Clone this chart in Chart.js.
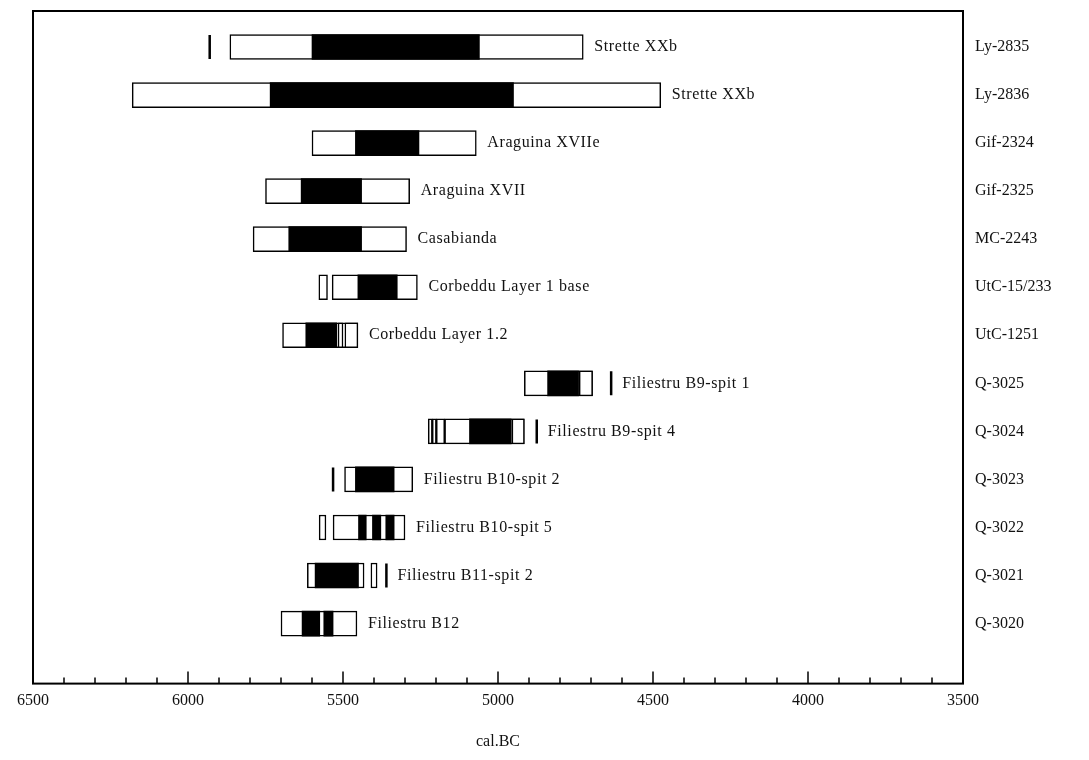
<!DOCTYPE html>
<html lang="en">
<head>
<meta charset="UTF-8">
<title>Radiocarbon dates (cal BC)</title>
<script src="https://cdn.jsdelivr.net/npm/chart.js"></script>
<style>
  body { margin: 0; background: #fff; }
</style>
</head>
<body>
<canvas id="datesChart" width="1089" height="760"></canvas>
<script>
const sites = ['Strette XXb', 'Strette XXb', 'Araguina XVIIe', 'Araguina XVII', 'Casabianda',
  'Corbeddu Layer 1 base', 'Corbeddu Layer 1.2', 'Filiestru B9-spit 1', 'Filiestru B9-spit 4',
  'Filiestru B10-spit 2', 'Filiestru B10-spit 5', 'Filiestru B11-spit 2', 'Filiestru B12'];
const labIds = ['Ly-2835', 'Ly-2836', 'Gif-2324', 'Gif-2325', 'MC-2243', 'UtC-15/233', 'UtC-1251',
  'Q-3025', 'Q-3024', 'Q-3023', 'Q-3022', 'Q-3021', 'Q-3020'];

// 2 sigma ranges (white boxes), years cal BC
const sigma2 = [
  [[5865, 4725]],
  [[6180, 4475]],
  [[5600, 5070]],
  [[5750, 5285]],
  [[5790, 5295]],
  [[5578, 5550], [5535, 5260]],
  [[5695, 5452], [5516, 5500], [5494, 5452]],
  [[4915, 4695], [4738, 4695]],
  [[5225, 5212], [5212, 5199], [5199, 5172], [5172, 4915], [4955, 4915]],
  [[5495, 5275]],
  [[5577, 5555], [5532, 5300]],
  [[5615, 5432], [5410, 5390]],
  [[5700, 5455]]
];
// 1 sigma ranges (black)
const sigma1 = [
  [[5600, 5060]],
  [[5735, 4950]],
  [[5460, 5255]],
  [[5635, 5440]],
  [[5675, 5440]],
  [[5452, 5325]],
  [[5620, 5520]],
  [[4840, 4740]],
  [[5092, 4957]],
  [[5460, 5335]],
  [[5450, 5425], [5405, 5378], [5362, 5335]],
  [[5590, 5450]],
  [[5632, 5575], [5562, 5532]]
];
// isolated narrow peaks drawn as single strokes
const spikes = [[5930], [], [], [], [], [], [], [4635], [4875], [5532], [], [5360], []];

const xTicksMin = 3500, xTicksMax = 6500;

function toBars(ranges) {
  const out = [];
  ranges.forEach((row, i) => row.forEach(r => out.push({ x: r, y: i })));
  return out;
}
function toPoints(list) {
  const out = [];
  list.forEach((row, i) => row.forEach(v => out.push({ x: v, y: i })));
  return out;
}

const serif = "'Liberation Serif', 'DejaVu Serif', serif";
Chart.defaults.font.family = serif;
Chart.defaults.font.size = 16;
Chart.defaults.color = '#111';

const annotate = {
  id: 'annotate',
  afterDraw(chart) {
    const { ctx, chartArea: a, scales: { x, y } } = chart;
    ctx.save();
    ctx.strokeStyle = '#000';
    ctx.lineWidth = 2;
    ctx.strokeRect(a.left, a.top, a.right - a.left, a.bottom - a.top);
    // inward tick marks along the bottom
    ctx.lineWidth = 1.5;
    x.ticks.forEach(t => {
      const px = x.getPixelForValue(t.value);
      const len = t.value % 500 === 0 ? 12 : 6;
      ctx.beginPath();
      ctx.moveTo(px, a.bottom);
      ctx.lineTo(px, a.bottom - len);
      ctx.stroke();
    });
    ctx.fillStyle = '#111';
    ctx.font = '16px ' + serif;
    ctx.textBaseline = 'middle';
    ctx.textAlign = 'left';
    sites.forEach((name, i) => {
      const all = sigma2[i].flat().concat(sigma1[i].flat(), spikes[i]);
      const end = Math.min(...all);
      const py = y.getPixelForValue(i);
      ctx.letterSpacing = '0.6px';
      ctx.fillText(name, x.getPixelForValue(end) + 11, py);
      ctx.letterSpacing = '0px';
      ctx.fillText(labIds[i], a.right + 12, py);
    });
    ctx.restore();
  }
};

new Chart(document.getElementById('datesChart'), {
  type: 'bar',
  data: {
    datasets: [
      {
        label: '2 sigma',
        data: toBars(sigma2),
        backgroundColor: '#fff',
        borderColor: '#000',
        borderWidth: 1.5,
        borderSkipped: false,
        barThickness: 25,
        grouped: false,
        order: 3
      },
      {
        label: '1 sigma',
        data: toBars(sigma1),
        backgroundColor: '#000',
        borderWidth: 0,
        barThickness: 25,
        grouped: false,
        order: 2
      },
      {
        type: 'scatter',
        label: 'peaks',
        data: toPoints(spikes),
        pointStyle: 'line',
        rotation: 90,
        radius: 12,
        borderColor: '#000',
        borderWidth: 2.5,
        order: 1
      }
    ]
  },
  options: {
    responsive: false,
    animation: false,
    indexAxis: 'y',
    layout: { autoPadding: false, padding: { left: 33, right: 126, top: 11, bottom: 5 } },
    plugins: { legend: { display: false }, tooltip: { enabled: false } },
    scales: {
      x: {
        type: 'linear',
        min: xTicksMin,
        max: xTicksMax,
        reverse: true,
        grid: { display: false, drawTicks: false },
        border: { display: false },
        ticks: {
          stepSize: 100,
          autoSkip: false,
          maxRotation: 0,
          padding: 8,
          callback: v => (v % 500 === 0 ? String(v) : '')
        },
        title: { display: true, text: 'cal.BC', padding: { top: 13, bottom: 4 } }
      },
      y: {
        type: 'linear',
        min: -0.75,
        max: 13.25,
        reverse: true,
        offset: false,
        grid: { offset: false },
        display: false
      }
    }
  },
  plugins: [annotate]
});
</script>
</body>
</html>
